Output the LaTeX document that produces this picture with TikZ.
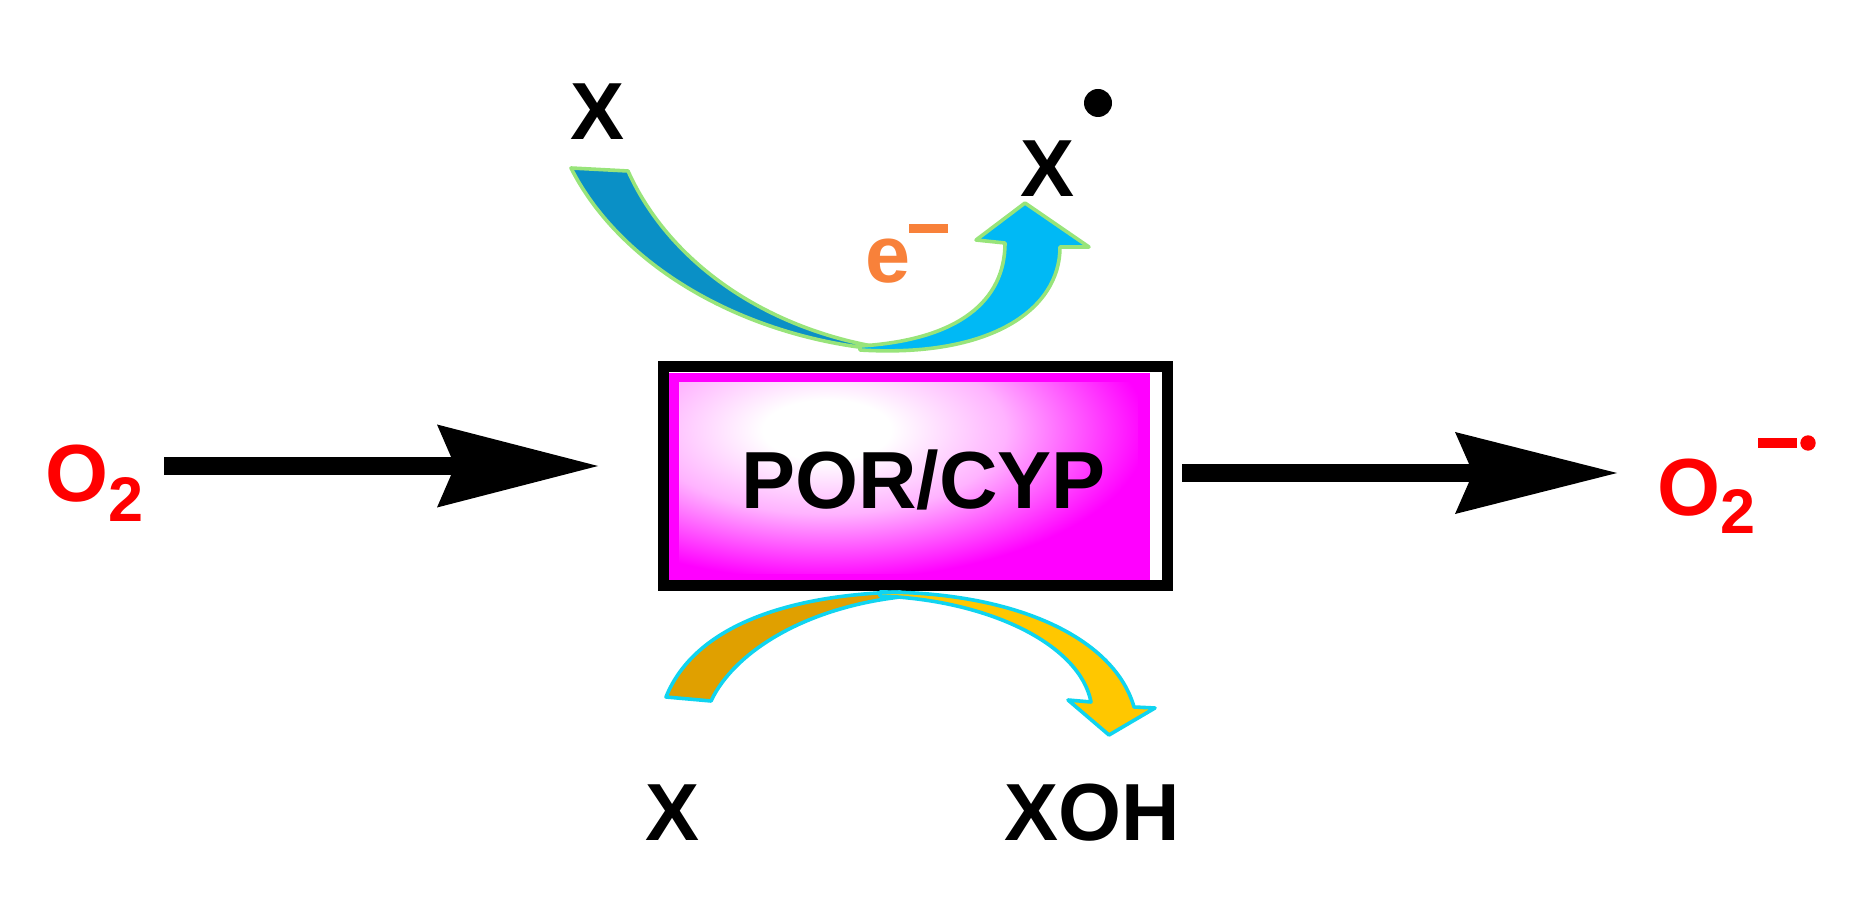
\documentclass[tikz,border=0pt]{standalone}
\usepackage{fontspec}
\setmainfont{Liberation Sans}
\usetikzlibrary{arrows.meta}
\definecolor{boxmag}{HTML}{FF00FF}
\definecolor{bluedark}{HTML}{0A90C6}
\definecolor{bluelight}{HTML}{00B9F5}
\definecolor{glowgreen}{HTML}{98E47A}
\definecolor{orangedark}{HTML}{E0A000}
\definecolor{yellowarr}{HTML}{FFC700}
\definecolor{glowcyan}{HTML}{10D4F0}
\definecolor{eorange}{HTML}{F8813A}
\definecolor{oxred}{HTML}{FF0000}
\pgfdeclareradialshading{boxglow}{\pgfpoint{0bp}{0bp}}{color(0bp)=(white); color(5bp)=(white); color(14bp)=(boxmag!30); color(25bp)=(boxmag); color(50bp)=(boxmag)}
\begin{document}
\begin{tikzpicture}[x=0.5pt,y=-0.5pt,
  lbl/.style={font=\fontsize{40.5}{48}\selectfont\bfseries, inner sep=0pt, outer sep=0pt, anchor=base},
  bigarrowA/.style={line width=9pt, -{Stealth[length=80.5pt,width=41.5pt,inset=9pt,line width=0pt]}},
  bigarrowB/.style={line width=9pt, -{Stealth[length=81pt,width=41pt,inset=9pt,line width=0pt]}},
  glowG/.style={draw=glowgreen, line width=1.8pt, line join=round},
  glowC/.style={draw=glowcyan, line width=1.8pt, line join=round}]
\useasboundingbox (0,0) rectangle (1858,903);

% enzyme box
\fill[white] (663,367) rectangle (1168,586);
\fill[boxmag] (669,373) rectangle (1150,580);
\begin{scope}
  \clip (679,383) rectangle (1138,573);
  \shade[shading=boxglow] (507,280) rectangle (1147,580);
\end{scope}
\node[draw, line width=5.5pt, minimum width=252pt, minimum height=109.25pt, inner sep=0pt, outer sep=0pt] (box) at (915.5,476.25) {};
\node[lbl] (por) at (923.5,509) {POR/CYP};

% O2 and superoxide
\node[lbl, anchor=base west, text=oxred] (o2) at (45.5,502) {O\raisebox{-9.5pt}{\fontsize{31.5}{32}\selectfont 2}};
\node[lbl, anchor=base west, text=oxred] (o2r) at (1657.5,516) {O\raisebox{-9pt}{\fontsize{31.5}{32}\selectfont 2}};
\fill[oxred] (1758,438) rectangle (1797,448);
\fill[oxred] (1808,443) circle (3.85pt);

% straight arrows
\coordinate (a1s) at (164,466);
\coordinate (a1e) at (598,466);
\coordinate (a2s) at (1182,473);
\coordinate (a2e) at (1617,473);
\draw[bigarrowA] (a1s) -- (a1e);
\draw[bigarrowB] (a2s) -- (a2e);

% top labels
\node[lbl] (xtop) at (598,139.5) {X};
\node[lbl] (xrad) at (1048,196.5) {X};
\fill[black] (1098,103) circle (7pt);
\node[lbl, anchor=base west, text=eorange] (elec) at (865,282.5) {e};
\fill[eorange] (909,224) rectangle (948,233);

% bottom labels
\node[lbl] (xbot) at (673,840) {X};
\node[lbl] (xoh) at (1092.5,840) {XOH};

% blue curved arrow (top)
\path[fill=bluedark, glowG] (571,168) .. controls (620,265) and (740,335) .. (875,349)
   -- (872,346) .. controls (760,325) and (668,260) .. (628,171) -- cycle;
\path[fill=bluelight, glowG] (860,350) .. controls (990,358) and (1060,310) .. (1060,247)
   -- (1089,247) -- (1025,203) -- (976,240) -- (1005,243)
   .. controls (1005,300) and (960,340) .. (860,346) -- cycle;

% orange curved arrow (bottom)
\path[fill=orangedark, glowC] (666,697) .. controls (695,625) and (790,595) .. (900,592)
   -- (910,596) .. controls (810,605) and (735,650) .. (711,701) -- cycle;
\path[fill=yellowarr, glowC] (880,592) .. controls (1020,592) and (1115,640) .. (1134,707)
   -- (1155,708) -- (1109,735) -- (1068,700) -- (1091,702)
   .. controls (1080,645) and (990,600) .. (880,596) -- cycle;
\end{tikzpicture}
\end{document}
